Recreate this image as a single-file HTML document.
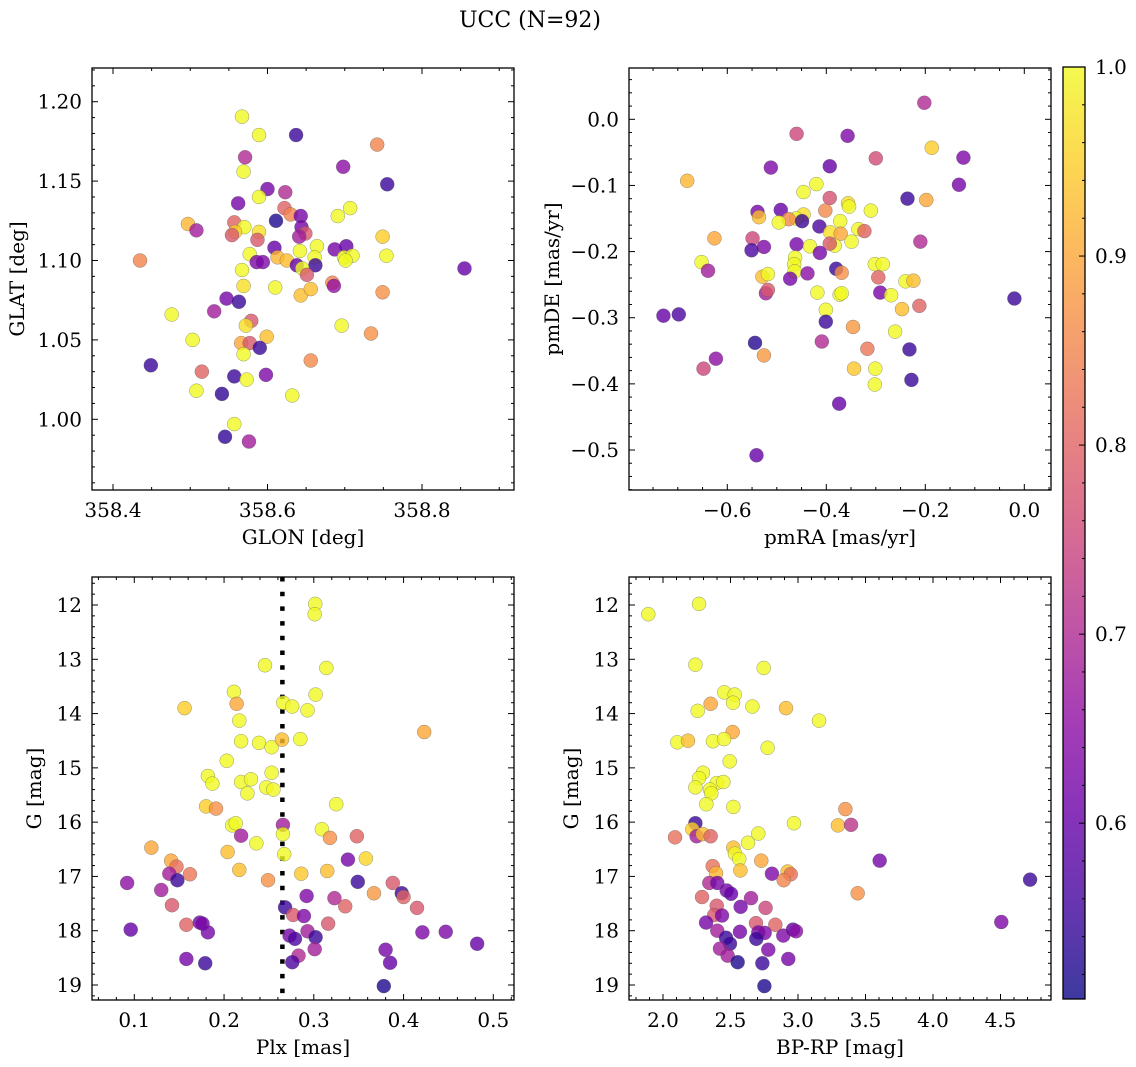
<!DOCTYPE html>
<html><head><meta charset="utf-8"><style>
html,body{margin:0;padding:0;background:#fff;}
svg{display:block;font-family:"DejaVu Serif","Liberation Serif",serif;}
</style></head><body>
<svg id="fig" width="1136" height="1067" viewBox="0 0 1136 1067" xmlns="http://www.w3.org/2000/svg">
<defs>
<linearGradient id="plasma" x1="0" y1="1" x2="0" y2="0">
<stop offset="0" stop-color="#0d0887"/><stop offset="0.1" stop-color="#41049d"/><stop offset="0.2" stop-color="#6a00a8"/><stop offset="0.3" stop-color="#8f0da4"/><stop offset="0.4" stop-color="#b12a90"/><stop offset="0.5" stop-color="#cc4778"/><stop offset="0.6" stop-color="#e16462"/><stop offset="0.7" stop-color="#f2844b"/><stop offset="0.8" stop-color="#fca636"/><stop offset="0.9" stop-color="#fcce25"/><stop offset="1" stop-color="#f0f921"/>
</linearGradient>
</defs>
<text x="530" y="27" font-size="22" text-anchor="middle">UCC (N=92)</text>
</svg>
<script>
// ---- Panel 1: GLON vs GLAT ----
const p1Glon=[358.567,358.589,358.637,358.742,358.571,358.569,358.698,358.755,358.600,358.589,358.623,358.562,358.622,358.630,358.643,358.707,358.691,358.611,358.497,358.508,358.557,358.570,358.558,358.554,358.589,358.587,358.644,358.649,358.641,358.749,358.754,358.609,358.664,358.642,358.687,358.702,358.577,358.613,358.625,358.586,358.594,358.661,358.699,358.710,358.701,358.435,358.855,358.567,358.638,358.662,358.645,358.651,358.569,358.610,358.643,358.656,358.684,358.686,358.749,358.547,358.563,358.531,358.476,358.579,358.572,358.696,358.503,358.599,358.566,358.577,358.590,358.569,358.734,358.449,358.515,358.656,358.557,358.573,358.598,358.508,358.541,358.632,358.557,358.545,358.576];
const p1Glat=[1.1906,1.179,1.179,1.173,1.165,1.156,1.159,1.148,1.145,1.140,1.143,1.136,1.133,1.129,1.128,1.133,1.128,1.125,1.123,1.119,1.124,1.121,1.118,1.116,1.118,1.113,1.121,1.117,1.115,1.115,1.103,1.108,1.109,1.106,1.107,1.109,1.104,1.102,1.100,1.099,1.099,1.102,1.102,1.103,1.100,1.100,1.095,1.094,1.097,1.097,1.095,1.091,1.084,1.083,1.078,1.082,1.086,1.084,1.080,1.076,1.074,1.068,1.066,1.062,1.059,1.059,1.050,1.052,1.048,1.048,1.045,1.041,1.054,1.034,1.030,1.037,1.027,1.025,1.028,1.018,1.016,1.015,0.997,0.989,0.986];
const p1Prob=[1,1,0.55,0.85,0.7,1,0.65,0.55,0.62,1,0.7,0.62,0.8,0.85,0.62,1,1,0.52,0.92,0.68,0.8,1,0.95,0.78,0.97,0.78,0.62,0.78,0.68,0.95,1,0.6,1,1,0.62,0.6,1,0.92,0.93,0.63,0.63,1,1,1,1,0.85,0.6,1,0.6,0.55,1,0.78,0.97,1,0.93,0.93,0.85,0.66,0.87,0.62,0.55,0.68,1,0.78,0.97,1,1,0.93,0.9,0.78,0.55,1,0.87,0.55,0.8,0.86,0.55,1,0.63,1,0.54,1,1,0.54,0.68];
// ---- Panel 2: pmRA vs pmDE ----
const p2PmRA=[-0.202,-0.460,-0.357,-0.187,-0.300,-0.123,-0.681,-0.512,-0.393,-0.420,-0.446,-0.132,-0.236,-0.198,-0.393,-0.402,-0.356,-0.354,-0.310,-0.539,-0.492,-0.536,-0.446,-0.461,-0.476,-0.449,-0.496,-0.414,-0.372,-0.392,-0.371,-0.335,-0.323,-0.349,-0.383,-0.393,-0.626,-0.549,-0.526,-0.551,-0.460,-0.433,-0.413,-0.210,-0.652,-0.639,-0.463,-0.465,-0.464,-0.438,-0.473,-0.529,-0.518,-0.522,-0.518,-0.380,-0.369,-0.302,-0.286,-0.295,-0.240,-0.224,-0.291,-0.269,-0.418,-0.373,-0.369,-0.020,-0.212,-0.247,-0.401,-0.729,-0.698,-0.401,-0.346,-0.261,-0.544,-0.409,-0.317,-0.232,-0.526,-0.623,-0.648,-0.344,-0.301,-0.302,-0.228,-0.374,-0.541];
const p2PmDE=[0.025,-0.022,-0.025,-0.043,-0.059,-0.058,-0.093,-0.073,-0.071,-0.098,-0.110,-0.099,-0.120,-0.122,-0.119,-0.138,-0.127,-0.132,-0.138,-0.140,-0.137,-0.148,-0.144,-0.150,-0.151,-0.154,-0.156,-0.162,-0.154,-0.171,-0.173,-0.166,-0.169,-0.185,-0.191,-0.188,-0.180,-0.180,-0.193,-0.198,-0.189,-0.192,-0.202,-0.185,-0.216,-0.229,-0.209,-0.219,-0.230,-0.233,-0.241,-0.238,-0.234,-0.263,-0.258,-0.226,-0.232,-0.219,-0.219,-0.239,-0.245,-0.244,-0.262,-0.266,-0.262,-0.265,-0.263,-0.271,-0.282,-0.287,-0.288,-0.297,-0.295,-0.306,-0.314,-0.321,-0.338,-0.336,-0.347,-0.348,-0.357,-0.362,-0.377,-0.377,-0.377,-0.401,-0.394,-0.430,-0.508];
const p2Prob=[0.7,0.75,0.63,0.95,0.76,0.63,0.92,0.63,0.6,1,1,0.62,0.55,0.9,0.77,0.86,0.97,1,1,0.62,0.6,0.93,0.97,1,0.86,0.55,1,0.57,1,0.97,0.9,1,0.8,1,1,0.78,0.9,0.75,0.63,0.57,0.62,1,0.62,0.7,1,0.68,1,1,1,0.65,0.62,0.93,1,0.68,0.78,0.55,0.87,1,1,0.8,1,0.93,0.62,1,1,1,1,0.55,0.8,0.93,1,0.6,0.57,0.55,0.88,1,0.53,0.7,0.83,0.55,0.88,0.65,0.75,0.94,1,1,0.55,0.6,0.6];
// ---- Panel 3: Plx vs G ----
const p3Plx=[0.3016,0.301,0.2456,0.314,0.211,0.302,0.214,0.156,0.266,0.276,0.293,0.217,0.423,0.219,0.239,0.253,0.2645,0.285,0.203,0.182,0.187,0.219,0.230,0.253,0.247,0.255,0.226,0.180,0.191,0.325,0.209,0.213,0.2656,0.2656,0.219,0.236,0.309,0.318,0.348,0.204,0.267,0.119,0.141,0.147,0.338,0.358,0.217,0.286,0.315,0.139,0.162,0.092,0.148,0.249,0.349,0.388,0.130,0.292,0.367,0.398,0.400,0.323,0.142,0.335,0.415,0.268,0.277,0.289,0.316,0.158,0.173,0.176,0.182,0.096,0.293,0.273,0.279,0.302,0.421,0.447,0.482,0.301,0.380,0.283,0.158,0.276,0.179,0.385,0.378];
const p3G=[11.98,12.17,13.11,13.16,13.60,13.65,13.82,13.90,13.80,13.87,13.94,14.13,14.34,14.51,14.54,14.62,14.48,14.47,14.87,15.15,15.29,15.26,15.21,15.09,15.36,15.40,15.47,15.71,15.75,15.67,16.06,16.02,16.05,16.22,16.25,16.39,16.13,16.29,16.26,16.55,16.59,16.47,16.71,16.82,16.69,16.67,16.88,16.95,16.90,16.95,16.96,17.12,17.07,17.07,17.10,17.12,17.25,17.36,17.31,17.31,17.38,17.40,17.53,17.55,17.58,17.57,17.71,17.73,17.87,17.89,17.85,17.87,18.03,17.98,18.01,18.09,18.15,18.12,18.03,18.02,18.24,18.34,18.35,18.46,18.52,18.58,18.60,18.59,19.02];
const p3Prob=[1,1,1,1,1,1,0.9,0.95,1,1,1,1,0.9,1,1,1,0.93,1,1,1,1,1,1,1,1,1,1,0.95,0.87,1,1,1,0.68,1,0.68,1,1,0.87,0.8,0.93,1,0.9,0.9,0.82,0.62,0.96,0.93,0.94,0.93,0.68,0.83,0.65,0.55,0.87,0.55,0.78,0.68,0.63,0.88,0.55,0.8,0.7,0.78,0.8,0.78,0.55,0.78,0.63,0.78,0.8,0.62,0.62,0.62,0.6,0.68,0.62,0.57,0.55,0.63,0.63,0.6,0.68,0.62,0.7,0.62,0.57,0.55,0.6,0.52];
const p3PlxMean=[0.265];
// ---- Panel 4: BP-RP vs G ----
const p4BPRP=[1.891,2.267,2.240,2.746,2.454,2.531,2.519,2.353,2.662,2.911,2.257,3.156,2.516,2.106,2.185,2.370,2.452,2.775,2.494,2.296,2.267,2.240,2.398,2.447,2.348,2.358,2.321,2.521,3.351,2.240,2.970,3.296,3.393,2.089,2.217,2.249,2.294,2.353,2.521,2.533,2.565,2.630,2.706,2.728,2.573,3.605,2.368,2.393,2.807,2.923,2.946,2.894,2.343,2.402,4.719,3.442,2.472,2.504,2.289,2.652,2.575,2.760,2.398,2.380,2.437,2.319,4.506,2.689,2.832,2.402,2.570,2.706,2.753,2.891,2.963,2.985,2.467,2.691,2.496,2.422,2.780,2.479,2.928,2.553,2.736,2.751];
const p4G=[12.17,11.98,13.10,13.16,13.61,13.65,13.80,13.82,13.87,13.90,13.95,14.13,14.34,14.53,14.50,14.51,14.47,14.63,14.88,15.09,15.19,15.36,15.28,15.26,15.40,15.47,15.67,15.72,15.76,16.02,16.02,16.06,16.05,16.28,16.13,16.26,16.22,16.26,16.47,16.58,16.68,16.38,16.21,16.71,16.89,16.71,16.81,16.94,16.95,16.91,16.96,17.07,17.12,17.12,17.06,17.31,17.26,17.32,17.38,17.40,17.56,17.58,17.54,17.71,17.72,17.85,17.84,17.86,17.89,18.00,18.02,18.03,18.04,18.09,17.98,18.01,18.13,18.15,18.24,18.33,18.35,18.46,18.52,18.58,18.60,19.02];
const p4Prob=[1,1,1,1,1,1,1,0.9,1,0.93,1,1,0.9,1,0.93,1,1,1,1,1,1,1,1,1,1,1,1,1,0.87,0.55,1,0.93,0.72,0.82,0.95,0.68,0.93,0.8,0.93,1,1,1,1,0.9,0.93,0.62,0.82,0.92,0.63,0.93,0.82,0.85,0.7,0.62,0.55,0.87,0.62,0.6,0.8,0.68,0.62,0.75,0.78,0.78,0.63,0.62,0.63,0.78,0.8,0.68,0.62,0.63,0.63,0.63,0.6,0.65,0.55,0.55,0.55,0.68,0.63,0.68,0.62,0.52,0.55,0.52];
// ---- Colorbar ----
const cbTicks=[0.6,0.7,0.8,0.9,1.0];
const cbMin=0.507, cbMax=1.0;

const NS="http://www.w3.org/2000/svg";
const FS=20;
const svg=document.getElementById('fig');
function mk(tag,attrs,parent){const e=document.createElementNS(NS,tag);for(const k in attrs)e.setAttribute(k,attrs[k]);(parent||svg).appendChild(e);return e;}
const stops=[[13,8,135],[65,4,157],[106,0,168],[143,13,164],[177,42,144],[204,71,120],[225,100,98],[242,132,75],[252,166,54],[252,206,37],[240,249,33]];
function plasma(v){let t=(v-cbMin)/(cbMax-cbMin);t=Math.max(0,Math.min(1,t))*10;const i=Math.min(9,Math.floor(t)),f=t-i;const a=stops[i],b=stops[i+1];return 'rgb('+[0,1,2].map(k=>Math.round(a[k]+(b[k]-a[k])*f)).join(',')+')';}
function lin(d0,p0,d1,p1){const s=(p1-p0)/(d1-d0);const f=v=>p0+(v-d0)*s;f.inv=p=>d0+(p-p0)/s;return f;}
function fmt(v,dec){const s=Math.abs(v).toFixed(dec);return (v<-1e-9?'\u2212':'')+s;}

function panel(cfg){
  const g=mk('g',{});
  
  
  const L=cfg.box[0],T=cfg.box[1],R=cfg.box[2],B=cfg.box[3];
  const xs=lin(...cfg.xref), ys=lin(...cfg.yref);
  const clipId='clip-'+cfg.name;
  const cp=mk('clipPath',{id:clipId},g);mk('rect',{x:L,y:T,width:R-L,height:B-T},cp);
  const pts=mk('g',{'clip-path':'url(#'+clipId+')'},g);
  
  
  if(cfg.vline){const ln=mk('line',{x1:xs(cfg.vline[0]),x2:xs(cfg.vline[0]),y1:T,y2:B,stroke:'#000','stroke-width':4.5,'stroke-dasharray':'4.5 10.2'},pts);
    
    }
  for(let i=0;i<cfg.x.length;i++){
    const c=mk('circle',{cx:xs(cfg.x[i]),cy:ys(cfg.y[i]),r:7,fill:plasma(cfg.c[i]),'fill-opacity':0.8,stroke:'#555','stroke-opacity':0.6,'stroke-width':0.5},pts);
    
    
  }
  const tk=mk('g',{stroke:'#000','stroke-width':1},g);
  function ticksX(step,major,dec){
    const lo=xs.inv(L),hi=xs.inv(R);
    for(let k=Math.ceil(lo/step-1e-6);k*step<=hi+1e-9;k++){const v=k*step;const isM=Math.abs(v/major-Math.round(v/major))<1e-6;const x=xs(v);const len=isM?6:3;
      mk('line',{x1:x,x2:x,y1:B,y2:B-len},tk);mk('line',{x1:x,x2:x,y1:T,y2:T+len},tk);
      if(isM){const t=mk('text',{x:x,y:B+27,'font-size':FS,'text-anchor':'middle',stroke:'none'},g);t.textContent=fmt(v,dec);
        
        }}
  }
  function ticksY(step,major,dec){
    const a=ys.inv(B),b=ys.inv(T);const lo=Math.min(a,b),hi=Math.max(a,b);
    for(let k=Math.ceil(lo/step-1e-6);k*step<=hi+1e-9;k++){const v=k*step;const isM=Math.abs(v/major-Math.round(v/major))<1e-6;const y=ys(v);const len=isM?6:3;
      mk('line',{x1:L,x2:L+len,y1:y,y2:y},tk);mk('line',{x1:R,x2:R-len,y1:y,y2:y},tk);
      if(isM){const t=mk('text',{x:L-10,y:y+7,'font-size':FS,'text-anchor':'end',stroke:'none'},g);t.textContent=fmt(v,dec);
        
        }}
  }
  ticksX(...cfg.xt);ticksY(...cfg.yt);
  const fr=mk('rect',{x:L,y:T,width:R-L,height:B-T,fill:'none',stroke:'#000','stroke-width':1.3},g);
  
  
  const xl=mk('text',{x:(L+R)/2,y:B+54,'font-size':FS,'text-anchor':'middle'},g);xl.textContent=cfg.xlabel;
  
  
  const yx=cfg.ylabx,yy=(T+B)/2;
  const yl=mk('text',{x:yx,y:yy,'font-size':FS,'text-anchor':'middle',transform:'rotate(-90 '+yx+' '+yy+')'},g);yl.textContent=cfg.ylabel;
  
  
}
panel({name:'glon-glat-panel',box:[92,68,514,490],xref:[358.4,113,358.8,422],yref:[1.0,419.3,1.2,101.7],x:p1Glon,y:p1Glat,c:p1Prob,xt:[0.05,0.2,1],yt:[0.01,0.05,2],xlabel:'GLON [deg]',ylabel:'GLAT [deg]',ylabx:24});
panel({name:'pm-panel',box:[629,68,1051,490],xref:[-0.6,727.3,0.0,1024.3],yref:[0,119.3,-0.5,450],x:p2PmRA,y:p2PmDE,c:p2Prob,xt:[0.05,0.2,1],yt:[0.02,0.1,1],xlabel:'pmRA [mas/yr]',ylabel:'pmDE [mas/yr]',ylabx:559});
panel({name:'plx-g-panel',box:[92,577,514,1000],xref:[0.1,134.3,0.5,493.3],yref:[12,605,19,985],x:p3Plx,y:p3G,c:p3Prob,xt:[0.02,0.1,1],yt:[0.2,1,0],xlabel:'Plx [mas]',ylabel:'G [mag]',ylabx:41,vline:p3PlxMean});
panel({name:'color-g-panel',box:[629,577,1051,1000],xref:[2.0,663,4.0,933],yref:[12,605,19,985],x:p4BPRP,y:p4G,c:p4Prob,xt:[0.1,0.5,1],yt:[0.2,1,0],xlabel:'BP-RP [mag]',ylabel:'G [mag]',ylabx:578});

(function(){
  const g=mk('g',{});
  
  
  const L=1063,R=1085,T=67,B=999;
  const cs=lin(cbMin,B,cbMax,T);
  mk('rect',{x:L,y:T,width:R-L,height:B-T,fill:'url(#plasma)','fill-opacity':0.8},g);
  for(let k=26;k<=50;k++){const v=k*0.02;if(v<cbMin)continue;const y=cs(v);const isM=k%5===0;
    mk('line',{x1:R,x2:R-(isM?6:3),y1:y,y2:y,stroke:'#000','stroke-width':1},g);}
  for(const v of cbTicks){const t=mk('text',{x:1095,y:cs(v)+7,'font-size':FS},g);t.textContent=v.toFixed(1);
    
    }
  mk('rect',{x:L,y:T,width:R-L,height:B-T,fill:'none',stroke:'#000','stroke-width':1.3},g);
})();
</script>
</body></html>
